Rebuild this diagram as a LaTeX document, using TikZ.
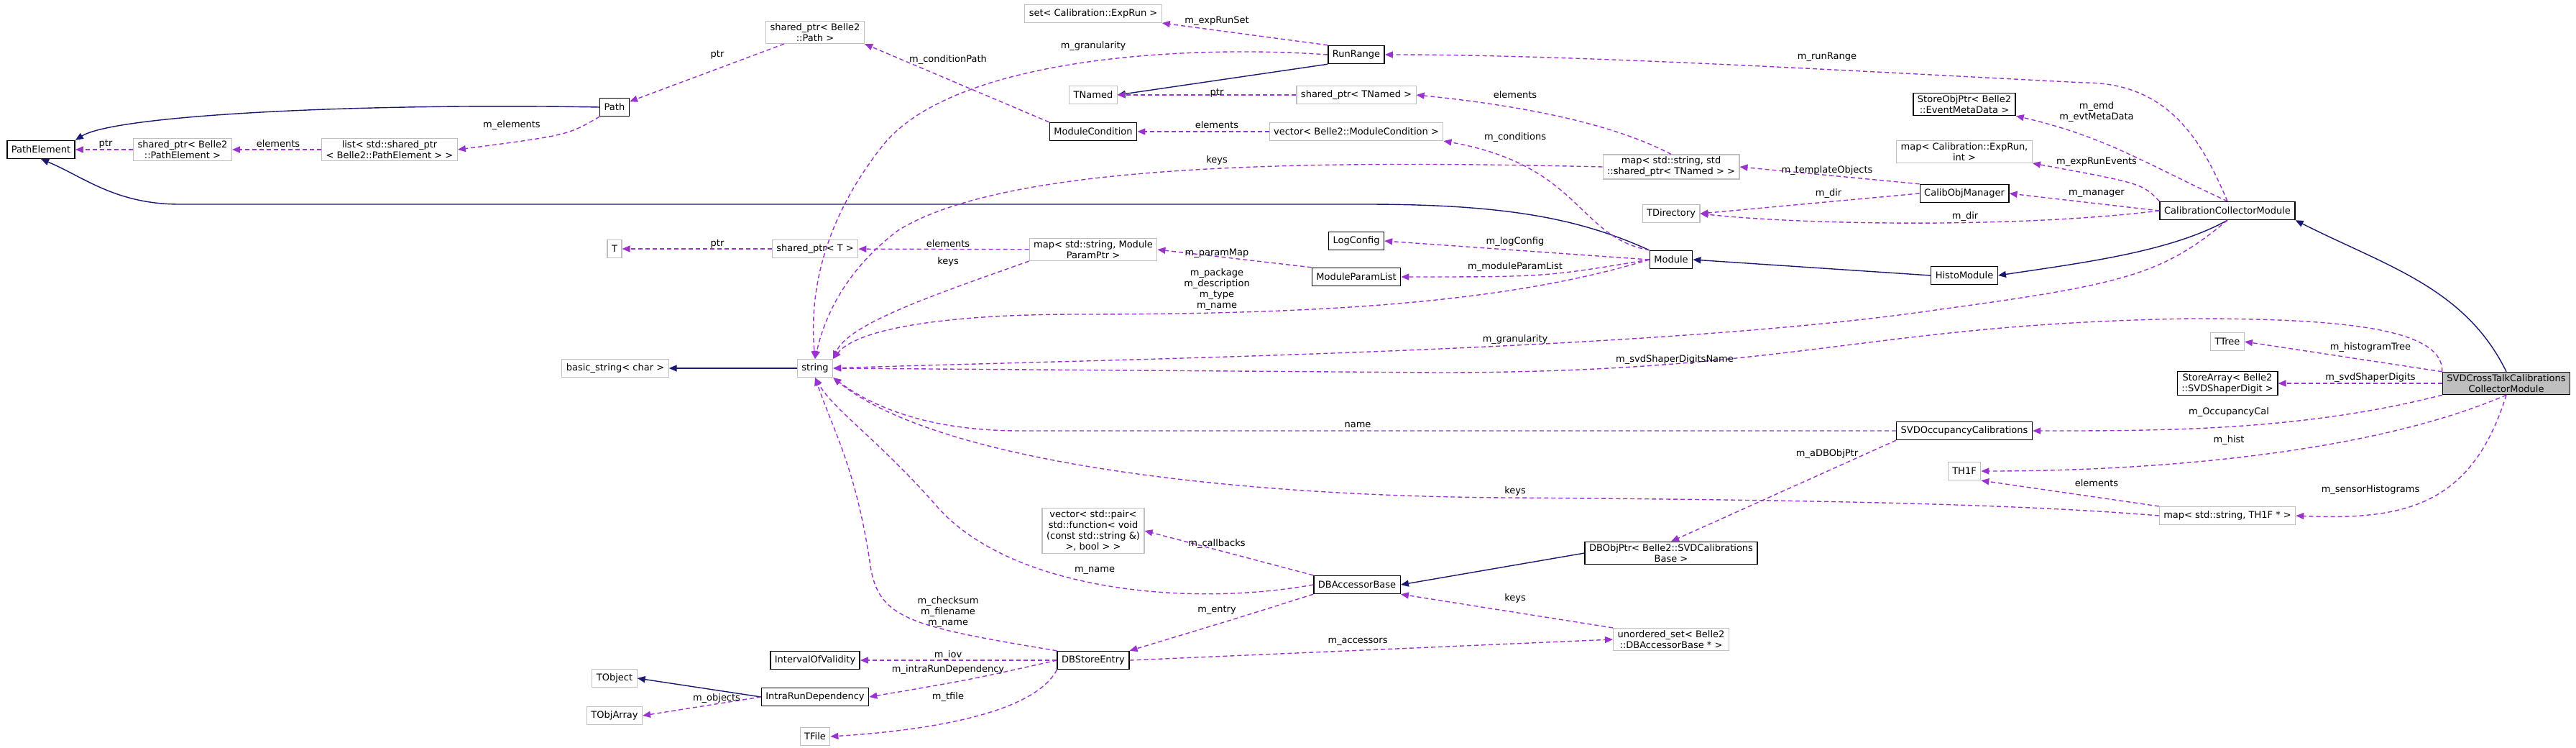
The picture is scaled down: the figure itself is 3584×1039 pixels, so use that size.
\documentclass[tikz,border=0pt]{standalone}
\usepackage{fontspec}
\setmainfont{DejaVu Sans}
\usetikzlibrary{arrows.meta}
\definecolor{inhcol}{HTML}{191970}
\definecolor{usecol}{HTML}{9A32CD}
\definecolor{extcol}{HTML}{BFBFBF}
\tikzset{
	cls/.style={draw=black, line width=1.4pt, fill=white, align=center, minimum height=25pt, inner xsep=6pt, inner ysep=3pt, font=\fontsize{13}{15}\selectfont},
	ext/.style={cls, draw=extcol, line width=1.1pt},
	inh/.style={draw=inhcol, line width=1.4pt, -{Triangle[length=11pt,width=9pt]}},
	use/.style={draw=usecol, line width=1.4pt, dash pattern=on 6pt off 4pt, -{Triangle[length=11pt,width=9pt]}},
	lbl/.style={font=\fontsize{13}{15}\selectfont, align=center, inner sep=0pt}
}
\begin{document}
\begin{tikzpicture}[x=1pt,y=-1pt]
	\useasboundingbox (0,0) rectangle (3584,1039);

	% classes
	\node[cls] (pe) at (57,208) {PathElement};
	\node[ext] (sppe) at (254,208) {shared\_ptr< Belle2\\::PathElement >};
	\node[ext] (lst) at (542,208) {list< std::shared\_ptr\\< Belle2::PathElement > >};
	\node[cls] (path) at (855,149) {Path};
	\node[ext] (spp) at (1134,45) {shared\_ptr< Belle2\\::Path >};
	\node[ext] (tT) at (855,346) {T};
	\node[ext] (spt) at (1134,346) {shared\_ptr< T >};
	\node[ext] (bstr) at (856,512) {basic\_string< char >};
	\node[ext] (str) at (1134,512) {string};
	\node[ext] (set) at (1521,19) {set< Calibration::ExpRun >};
	\node[cls] (rr) at (1887,76) {RunRange};
	\node[ext] (tnamed) at (1521,132) {TNamed};
	\node[ext] (sptn) at (1887,132) {shared\_ptr< TNamed >};
	\node[cls] (mc) at (1521,183) {ModuleCondition};
	\node[ext] (vmc) at (1887,183) {vector< Belle2::ModuleCondition >};
	\node[ext] (mtn) at (2325,232) {map< std::string, std\\::shared\_ptr< TNamed > >};
	\node[ext] (tdir) at (2325,297) {TDirectory};
	\node[cls] (logc) at (1887,335) {LogConfig};
	\node[ext] (mpp) at (1521,347) {map< std::string, Module\\ParamPtr >};
	\node[cls] (mpl) at (1887,385) {ModuleParamList};
	\node[cls] (mod) at (2325,361) {Module};
	\node[cls] (semd) at (2733,145) {StoreObjPtr< Belle2\\::EventMetaData >};
	\node[ext] (mexp) at (2733,211) {map< Calibration::ExpRun,\\int >};
	\node[cls] (com) at (2733,269) {CalibObjManager};
	\node[cls] (ccm) at (3099,293) {CalibrationCollectorModule};
	\node[cls] (histo) at (2733,383) {HistoModule};
	\node[ext] (ttree) at (3099,475) {TTree};
	\node[cls, fill=extcol] (svd) at (3487,533) {SVDCrossTalkCalibrations\\CollectorModule};
	\node[cls] (sarr) at (3099,533) {StoreArray< Belle2\\::SVDShaperDigit >};
	\node[cls] (socc) at (2733,599) {SVDOccupancyCalibrations};
	\node[ext] (th1f) at (2733,655) {TH1F};
	\node[ext] (mth) at (3099,717) {map< std::string, TH1F * >};
	\node[cls] (dbop) at (2325,769) {DBObjPtr< Belle2::SVDCalibrations\\Base >};
	\node[ext] (vcb) at (1521,738) {vector< std::pair<\\std::function< void\\(const std::string \&)\\>, bool > >};
	\node[cls] (dbab) at (1888,813) {DBAccessorBase};
	\node[ext] (uset) at (2325,889) {unordered\_set< Belle2\\::DBAccessorBase * >};
	\node[cls] (dbse) at (1521,918) {DBStoreEntry};
	\node[cls] (iov) at (1134,918) {IntervalOfValidity};
	\node[ext] (tobj) at (855,943) {TObject};
	\node[cls] (ird) at (1134,969) {IntraRunDependency};
	\node[ext] (tobja) at (855,995) {TObjArray};
	\node[ext] (tfile) at (1134,1024) {TFile};

	% inheritance
	\draw[inh] (path.west) .. controls (500,143) and (160,160) .. (pe.north east);
	\draw[inh] (mod.north west) .. controls (2200,305) and (2100,284) .. (1900,284)
		-- (250,284) .. controls (160,284) and (115,245) .. (pe.south);
	\draw[inh] (str) -- (bstr);
	\draw[inh] (rr.south west) -- (tnamed.east);
	\draw[inh] (ccm.south) .. controls (3020,350) and (2900,365) .. (histo.east);
	\draw[inh] (histo.west) -- (mod.east);
	\draw[inh] (svd.north) .. controls (3430,400) and (3320,370) .. (ccm.south east);
	\draw[inh] (dbop.west) -- (dbab.east);
	\draw[inh] (ird.west) -- (tobj.east);

	% usage
	\draw[use] (spp) -- (path);
	\draw[use] (path.south west) .. controls (790,188) .. (lst.east);
	\draw[use] (lst) -- (sppe);
	\draw[use] (sppe) -- (pe);
	\draw[use] (spt) -- (tT);
	\draw[use] (mod.west) .. controls (2100,420) and (1850,437) .. (1500,437)
		.. controls (1300,437) and (1190,460) .. (str.north east);
	\draw[use] (mod.west) .. controls (2150,385) .. (mpl.east);
	\draw[use] (mod.west) -- (logc.east);
	\draw[use] (mod.north west) .. controls (2195,330) and (2200,230) .. (vmc.south east);
	\draw[use] (vmc) -- (mc);
	\draw[use] (mc.north west) -- (spp.south east);
	\draw[use] (mpl.north west) -- (mpp.east);
	\draw[use] (mpp) -- (spt);
	\draw[use] (mpp.south west) .. controls (1300,410) and (1180,450) .. (str.north east);
	\draw[use] (rr.north west) -- (set.south east);
	\draw[use] (rr.west) .. controls (1650,62) and (1330,80) .. (1230,200)
		.. controls (1150,300) and (1125,400) .. (str.north);
	\draw[use] (sptn) -- (tnamed);
	\draw[use] (mtn.north) .. controls (2260,180) and (2150,150) .. (sptn.east);
	\draw[use] (mtn.west) .. controls (1800,222) and (1400,228) .. (1250,320)
		.. controls (1170,380) and (1145,450) .. (str.north);
	\draw[use] (com.north west) -- (mtn.east);
	\draw[use] (com.west) -- (tdir.east);
	\draw[use] (ccm.west) .. controls (2800,318) and (2500,312) .. (tdir.east);
	\draw[use] (ccm.west) -- (com.east);
	\draw[use] (ccm.north west) .. controls (2980,255) .. (mexp.south east);
	\draw[use] (ccm.north) .. controls (2990,230) and (2930,190) .. (semd.south east);
	\draw[use] (ccm.north) .. controls (3065,200) and (3020,115) .. (2900,115)
		.. controls (2600,100) and (2200,76) .. (rr.east);
	\draw[use] (ccm.south) .. controls (3010,380) and (2960,395) .. (2700,430)
		.. controls (2300,490) and (1500,500) .. (str.east);
	\draw[use] (svd.north west) .. controls (3400,455) and (3250,443) .. (3050,443)
		.. controls (2600,450) and (2500,518) .. (2000,518) -- (str.east);
	\draw[use] (svd.north west) -- (ttree.east);
	\draw[use] (svd) -- (sarr);
	\draw[use] (svd.south west) .. controls (3200,600) and (3000,599) .. (socc.east);
	\draw[use] (svd.south) .. controls (3300,630) and (3000,655) .. (th1f.east);
	\draw[use] (svd.south) .. controls (3440,700) and (3350,724) .. (mth.east);
	\draw[use] (mth.north west) -- (th1f.south east);
	\draw[use] (mth.west) .. controls (2800,700) and (2500,695) .. (2100,692)
		.. controls (1700,690) and (1300,640) .. (str.south east);
	\draw[use] (socc.west) -- (1420,599) .. controls (1300,599) and (1220,570) .. (str.south east);
	\draw[use] (socc.south west) -- (dbop.north);
	\draw[use] (dbab.north west) -- (vcb.east);
	\draw[use] (dbab.west) .. controls (1650,845) and (1400,820) .. (1300,700)
		.. controls (1220,610) and (1160,570) .. (str.south);
	\draw[use] (dbab.south west) .. controls (1720,860) .. (dbse.north east);
	\draw[use] (dbse.east) -- (uset.west);
	\draw[use] (uset.north west) -- (dbab.south east);
	\draw[use] (dbse.north west) .. controls (1260,870) and (1220,860) .. (1210,780)
		.. controls (1190,650) and (1160,600) .. (str.south);
	\draw[use] (dbse.west) -- (iov.east);
	\draw[use] (dbse.west) .. controls (1350,945) .. (ird.east);
	\draw[use] (dbse.south west) .. controls (1440,990) and (1300,1015) .. (tfile.east);
	\draw[use] (ird.west) -- (tobja.east);

	% labels
	\node[lbl] (l1) at (998,76) {ptr};
	\node[lbl] (l2) at (712,174) {m\_elements};
	\node[lbl] (l3) at (147,200) {ptr};
	\node[lbl] (l4) at (387,200) {elements};
	\node[lbl] (l5) at (998,339) {ptr};
	\node[lbl] (l6) at (1693,29) {m\_expRunSet};
	\node[lbl] (l7) at (1521,64) {m\_granularity};
	\node[lbl] (l8) at (1319,83) {m\_conditionPath};
	\node[lbl] (l9) at (1693,129) {ptr};
	\node[lbl] (l10) at (2108,132) {elements};
	\node[lbl] (l11) at (1693,174) {elements};
	\node[lbl] (l12) at (2108,191) {m\_conditions};
	\node[lbl] (l13) at (1693,223) {keys};
	\node[lbl] (l14) at (1319,339) {elements};
	\node[lbl] (l15) at (1319,364) {keys};
	\node[lbl] (l16) at (1693,352) {m\_paramMap};
	\node[lbl] (l17) at (2108,336) {m\_logConfig};
	\node[lbl] (l18) at (2108,371) {m\_moduleParamList};
	\node[lbl] (l19) at (1693,403) {m\_package\\m\_description\\m\_type\\m\_name};
	\node[lbl] (l20) at (2108,472) {m\_granularity};
	\node[lbl] (l21) at (2330,500) {m\_svdShaperDigitsName};
	\node[lbl] (l22) at (2542,79) {m\_runRange};
	\node[lbl] (l23) at (2917,156) {m\_emd\\m\_evtMetaData};
	\node[lbl] (l24) at (2917,225) {m\_expRunEvents};
	\node[lbl] (l25) at (2542,237) {m\_templateObjects};
	\node[lbl] (l26) at (2544,269) {m\_dir};
	\node[lbl] (l27) at (2917,269) {m\_manager};
	\node[lbl] (l28) at (2734,301) {m\_dir};
	\node[lbl] (l29) at (3298,483) {m\_histogramTree};
	\node[lbl] (l30) at (3298,525) {m\_svdShaperDigits};
	\node[lbl] (l31) at (3101,573) {m\_OccupancyCal};
	\node[lbl] (l32) at (2542,631) {m\_aDBObjPtr};
	\node[lbl] (l33) at (3101,612) {m\_hist};
	\node[lbl] (l34) at (2917,672) {elements};
	\node[lbl] (l35) at (3298,681) {m\_sensorHistograms};
	\node[lbl] (l36) at (1889,591) {name};
	\node[lbl] (l37) at (2108,683) {keys};
	\node[lbl] (l38) at (1693,756) {m\_callbacks};
	\node[lbl] (l39) at (1523,793) {m\_name};
	\node[lbl] (l40) at (2108,832) {keys};
	\node[lbl] (l41) at (1693,848) {m\_entry};
	\node[lbl] (l42) at (1319,851) {m\_checksum\\m\_filename\\m\_name};
	\node[lbl] (l43) at (1889,892) {m\_accessors};
	\node[lbl] (l44) at (1319,911) {m\_iov};
	\node[lbl] (l45) at (1319,931) {m\_intraRunDependency};
	\node[lbl] (l46) at (1319,969) {m\_tfile};
	\node[lbl] (l47) at (997,971) {m\_objects};
\end{tikzpicture}
\end{document}
